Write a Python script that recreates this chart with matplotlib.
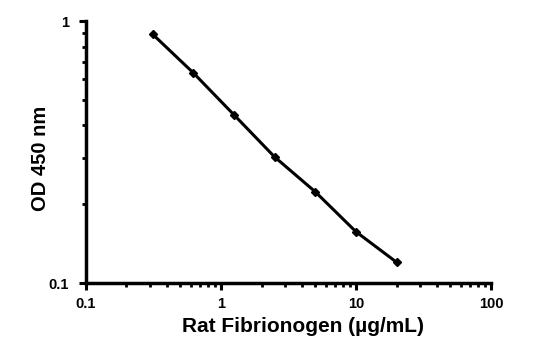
import matplotlib.pyplot as plt
from matplotlib.ticker import FuncFormatter, LogLocator, NullFormatter

# standard curve: 2-fold dilutions of rat fibrinogen
conc = [0.3125, 0.625, 1.25, 2.5, 5, 10, 20]
od450 = [0.892, 0.635, 0.439, 0.303, 0.223, 0.157, 0.120]

plt.rcParams['font.family'] = ['Liberation Sans', 'DejaVu Sans']
plt.rcParams['font.weight'] = 'bold'

fig = plt.figure(figsize=(5.6, 3.41), dpi=100)
ax = fig.add_axes([0.153, 0.170, 0.724, 0.768])

ax.plot(conc, od450, color='black', lw=2.2, marker='D', ms=4.5,
        markerfacecolor='black', markeredgecolor='black')

ax.set_xscale('log')
ax.set_yscale('log')
ax.set_xlim(0.1, 100)
ax.set_ylim(0.1, 1)

fmt = FuncFormatter(lambda v, pos: '%g' % v)
ax.xaxis.set_major_formatter(fmt)
ax.yaxis.set_major_formatter(fmt)
ax.xaxis.set_minor_locator(LogLocator(base=10, subs=range(2, 10)))
ax.yaxis.set_minor_locator(LogLocator(base=10, subs=range(2, 10)))
ax.xaxis.set_minor_formatter(NullFormatter())
ax.yaxis.set_minor_formatter(NullFormatter())

for s in ['top', 'right']:
    ax.spines[s].set_visible(False)
for s in ['left', 'bottom']:
    ax.spines[s].set_linewidth(2.5)

ax.tick_params(which='major', direction='out', length=5, width=2.2,
               labelsize=10.5)
ax.tick_params(axis='x', which='major', pad=5)
ax.tick_params(axis='y', which='major', pad=7)
ax.tick_params(which='minor', direction='out', length=3, width=2)

ax.set_xlabel('Rat Fibrionogen (µg/mL)', fontsize=15, fontweight='bold')
ax.set_ylabel('OD 450 nm', fontsize=14.5, fontweight='bold')
ax.xaxis.set_label_coords(0.537, -0.13, transform=ax.transAxes)
ax.yaxis.set_label_coords(-0.088, 0.475, transform=ax.transAxes)

fig.savefig('out.png', dpi=100)
